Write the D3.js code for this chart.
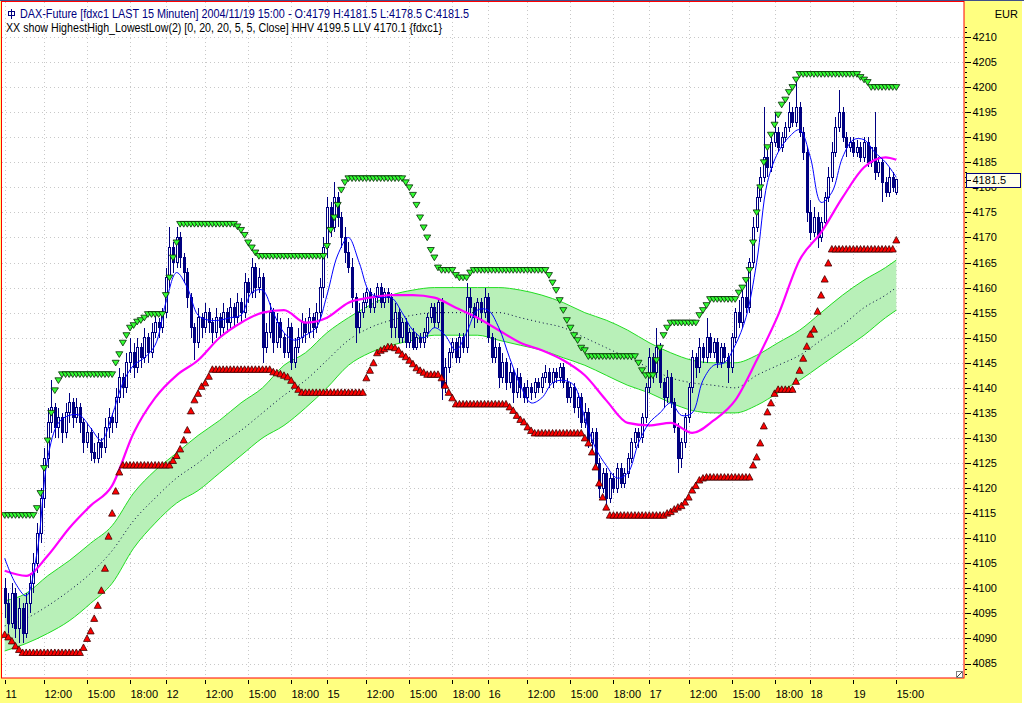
<!DOCTYPE html>
<html><head><meta charset="utf-8">
<script src="https://cdn.jsdelivr.net/npm/d3@7"></script>
<style>
body{margin:0;background:#fff;}
svg{display:block;font-family:"Liberation Sans",Arial,sans-serif;}
</style>
</head><body>
<svg id="chart" width="1024" height="705"></svg>
<script>
// ---------- DATA (15-minute bars, DAX future fdxc1) ----------
const xTickIdx = [0,11,23,35,45,56,68,80,90,101,113,125,135,146,158,170,180,191,203,215,225,237,249];
const xTickLabels = ["11","12:00","15:00","18:00","12","12:00","15:00","18:00","15","12:00","15:00","18:00","16","12:00","15:00","18:00","17","12:00","15:00","18:00","18","19","15:00"];
const yTicks = [4085,4090,4095,4100,4105,4110,4115,4120,4125,4130,4135,4140,4145,4150,4155,4160,4165,4170,4175,4180,4185,4190,4195,4200,4205,4210];

const opens = [
4100,4097,4093,4099,4092,4096,4091,4097,4101,4105,
4111,4118,4126,4133,4136,4132,4134,4131,4135,4137,
4134,4136,4133,4129,4131,4127,4126,4129,4128,4132,
4134,4133,4138,4142,4140,4145,4147,4144,4148,4146,
4150,4147,4151,4153,4152,4155,4162,4168,4165,4170,
4166,4163,4158,4152,4149,4154,4152,4155,4153,4151,
4154,4152,4155,4153,4156,4154,4157,4155,4161,4159,
4164,4160,4162,4148,4151,4155,4149,4153,4150,4147,
4152,4145,4148,4150,4153,4151,4154,4152,4155,4160,
4168,4176,4172,4178,4174,4170,4167,4164,4158,4152,
4155,4157,4159,4156,4158,4160,4157,4159,4158,4152,
4155,4150,4153,4149,4151,4148,4150,4149,4151,4154,
4156,4153,4157,4140,4144,4147,4149,4146,4150,4148,
4158,4156,4154,4157,4155,4158,4150,4146,4148,4142,
4145,4141,4143,4139,4142,4140,4138,4140,4139,4141,
4140,4142,4143,4141,4143,4142,4144,4141,4138,4140,
4136,4138,4133,4135,4129,4131,4125,4120,4123,4118,
4122,4120,4124,4121,4123,4126,4129,4131,4130,4134,
4140,4146,4143,4148,4141,4138,4142,4137,4132,4126,
4129,4134,4140,4146,4144,4148,4146,4150,4147,4149,
4145,4148,4146,4144,4150,4155,4153,4158,4156,4165,
4172,4178,4182,4186,4184,4189,4191,4188,4190,4192,
4195,4193,4196,4191,4187,4175,4171,4174,4170,4173,
4178,4182,4187,4192,4195,4190,4188,4189,4187,4188,
4186,4189,4185,4188,4183,4185,4181,4179,4182,4179];

const highs = [
4102,4099,4101,4100,4098,4097,4099,4103,4107,4113,
4120,4128,4136,4141.5,4137,4136,4135,4137,4139,4138,
4138,4137,4134,4133,4132,4129,4131,4130,4134,4136,
4135,4140,4144,4143,4147,4150,4149,4150,4149,4152,
4151,4153,4155,4154,4156,4164,4172,4169,4172,4171,
4167,4164,4159,4153,4156,4155,4157,4156,4154,4156,
4155,4157,4156,4158,4157,4159,4158,4163,4162,4166,
4165,4164,4163,4153,4157,4156,4155,4154,4151,4154,
4153,4150,4152,4155,4154,4156,4155,4157,4162,4170,
4178,4177,4181,4179,4175,4172,4169,4166,4159,4157,
4159,4160,4160,4159,4161,4161,4160,4160,4159,4157,
4156,4154,4154,4152,4152,4151,4151,4152,4155,4157,
4157,4158,4158,4146,4148,4150,4150,4151,4151,4161,
4160,4157,4158,4158,4160,4159,4151,4150,4149,4147,
4146,4145,4144,4144,4143,4141,4141.5,4141,4142,4142,
4143,4144.5,4144,4144,4144,4145,4145,4142,4141,4141,
4139,4139,4137,4136,4132,4132,4126,4124,4124,4123,
4123,4125,4125,4124,4127,4130,4132,4132,4135,4141,
4148,4147,4152,4149,4142,4143.5,4143,4138,4133,4130,
4135,4141,4147.5,4147,4150,4149,4154,4151,4150,4150,
4149,4149,4147,4151,4156,4157.5,4160,4161.5,4166,4174,
4180,4184,4196,4188,4190,4195,4192,4191,4193,4197,
4196,4202,4197,4192,4188,4177.5,4176,4175,4174,4179,
4184,4189,4194,4199.5,4196,4191,4190,4190,4189.5,4189,
4190,4190,4186,4195,4186,4186,4182,4184,4183,4181.5];

const lows = [
4094,4091,4092,4090,4089,4089,4090,4095,4099,4103,
4109,4116,4124,4131,4130,4130,4129,4130,4133,4132,
4133,4131,4127,4128,4125.5,4125,4125,4126,4127,4130,
4131,4132,4137,4138,4139,4143,4142,4143,4144,4145,
4145,4146,4150,4150,4151,4154,4160,4163,4164,4164,
4161,4156,4150,4145.5,4148,4150,4151,4151,4149,4150,
4150,4151,4151,4152,4152,4153,4153,4154,4157,4158,
4158,4159,4145,4147,4150,4147,4148,4148,4146,4146,
4143.5,4144,4147,4149,4149,4150,4150,4151,4154,4158,
4166,4170,4171,4172,4168,4165,4163,4156,4149,4151,
4154,4156,4155,4155,4157,4156,4156,4157,4150,4150,
4149,4149,4148,4148,4147.5,4147.5,4148,4148,4150,4153,
4152,4152,4137.5,4139,4143,4146,4145,4145,4147,4147,
4154,4152,4153,4153,4154,4149,4145,4145,4140,4141,
4139.5,4140,4137,4138,4138,4137,4137,4137.5,4138,4139,
4139,4141,4140,4140,4141,4141,4140,4137,4137,4135,
4134,4132,4132,4128,4127,4124,4118,4119,4116,4117,
4119,4119,4120,4120,4122,4125,4128,4128,4129,4133,
4139,4141,4142,4140,4136,4137,4136,4131,4123,4124,
4128,4133,4139,4142,4143,4145,4145,4146,4146,4144,
4144,4145,4141,4143,4149,4152,4152,4155,4155,4164,
4171,4177,4181,4182,4183,4188,4187,4187,4189,4191,
4192,4192,4190,4185.5,4173,4169.5,4170,4168,4169,4172,
4177,4181,4186,4191,4189,4186,4187,4186,4186,4185,
4185,4184,4184,4181.5,4182,4177,4178,4178,4179,4178.5];

const closes = [
4097,4093,4099,4092,4096,4091,4097,4101,4105,4111,
4118,4126,4133,4136,4132,4134,4131,4135,4137,4134,
4136,4133,4129,4131,4127,4126,4129,4128,4132,4134,
4133,4138,4142,4140,4145,4147,4144,4148,4146,4150,
4147,4151,4153,4152,4155,4162,4168,4165,4170,4166,
4163,4158,4152,4149,4154,4152,4155,4153,4151,4154,
4152,4155,4153,4156,4154,4157,4155,4161,4159,4164,
4160,4162,4148,4151,4155,4149,4153,4150,4147,4152,
4145,4148,4150,4153,4151,4154,4152,4155,4160,4168,
4176,4172,4178,4174,4170,4167,4164,4158,4152,4155,
4157,4159,4156,4158,4160,4157,4159,4158,4152,4155,
4150,4153,4149,4151,4148,4150,4149,4151,4154,4156,
4153,4157,4140,4144,4147,4149,4146,4150,4148,4158,
4156,4154,4157,4155,4158,4150,4146,4148,4142,4145,
4141,4143,4139,4142,4140,4138,4140,4139,4141,4140,
4142,4143,4141,4143,4142,4144,4141,4138,4140,4136,
4138,4133,4135,4129,4131,4125,4120,4123,4118,4122,
4120,4124,4121,4123,4126,4129,4131,4130,4134,4140,
4146,4143,4148,4141,4138,4142,4137,4132,4126,4129,
4134,4140,4146,4144,4148,4146,4150,4147,4149,4145,
4148,4146,4144,4150,4155,4153,4158,4156,4165,4172,
4178,4182,4186,4184,4189,4191,4188,4190,4192,4195,
4193,4196,4191,4187,4175,4171,4174,4170,4173,4178,
4182,4187,4192,4195,4190,4188,4189,4187,4188,4186,
4189,4185,4188,4183,4185,4181,4179,4182,4180,4181.5];

// short average (blue), read every 3rd bar
const blueIdx = [0,3,6,9,12,15,18,21,24,27,30,33,36,39,42,45,48,51,54,57,60,63,66,69,72,75,78,81,84,87,90,93,96,99,102,105,108,111,114,117,120,123,126,129,132,135,138,141,144,147,150,153,156,159,162,165,168,171,174,177,180,183,186,189,192,195,198,201,204,207,210,213,216,219,222,225,228,231,234,237,240,243,246,249];
const blueVals = [
4106,4101,4098.5,4107,4126,4133,4134.5,4134.5,4132,4129.5,
4134.5,4141,4144.5,4146,4148.5,4157,4163,4160,4154.5,4153.5,
4153.5,4154,4154.5,4159,4159.5,4155,4151,4149.5,4150.5,4152,
4158.5,4166.5,4170,4165,4159,4158,4158,4155,4151.5,4150,
4152,4150.5,4147.5,4151,4155.5,4155.5,4152,4146,4140.5,4137,
4138,4141,4141.5,4140.5,4134,4128,4124.5,4122,4123,4129,
4133,4135,4137,4134.5,4135,4141.5,4144.5,4145,4148.5,4154,
4165,4181,4187,4190,4191.5,4186,4177,4179,4186,4189.5,
4189.5,4187,4185,4182];

// long average (magenta) and green band, read every 6th bar
const slowIdx = [0,6,12,18,24,30,36,42,48,54,60,66,72,78,84,90,96,102,108,114,120,126,132,138,144,150,156,162,168,174,180,186,192,198,204,210,216,222,228,234,240,246,249];
const magentaVals = [
4103.5,4102.5,4106.5,4112,4116.5,4120.5,4131,4138,4142.5,4145.5,
4150,4153,4155,4155.5,4153,4154,4157,4158,4158.5,4158.5,
4158,4156,4154,4151.5,4149,4147.5,4145.5,4142.5,4137.5,4133,
4132.5,4133,4131,4133.5,4137.5,4145.5,4154.5,4165.5,4171,4178,
4184,4186,4185.5];
const bandUpper = [
4097.5,4099,4102.5,4105.5,4109,4112.5,4119,4123.5,4127,4130.5,
4133.5,4137,4140,4144.5,4147,4151,4154,4156.5,4158.5,4159.5,
4160,4160,4160,4160,4159.5,4158.5,4157,4155,4153.5,4151.5,
4149,4147,4145.5,4145,4145,4146.5,4149,4151.5,4155,4158.5,
4161.5,4164,4165.5];
const bandLower = [
4087.5,4089,4091,4093.5,4097,4101,4108,4113,4117,4119.5,
4123,4126.5,4130,4132.5,4136,4140,4144.5,4147,4148.5,4149.5,
4150.5,4150.5,4150.5,4149.5,4148.5,4147.5,4146,4144.5,4142.5,4140.5,
4139,4137,4135.5,4135,4135,4136.5,4139,4141.5,4144.5,4147.5,
4150.5,4154,4155.5];
const bandMid = [
4092.5,4094,4096.5,4099.5,4103,4107.5,4113.5,4118,4122,4125,
4128.5,4131.5,4135,4138.5,4141.5,4145.5,4149.5,4152,4153.5,4154.5,
4155,4155,4155,4155,4154,4153,4152,4150,4148,4146,
4144,4142,4141,4140.5,4140,4142.5,4144.5,4146.5,4149.5,4152.5,
4156,4158.5,4160];

// HighestHigh (green, down triangles) and LowestLow (red, up triangles)
const hhv = [
4114.6,4114.6,4114.6,4114.6,4114.6,4114.6,4114.6,4114.6,4114.6,4116,
4119,4124,4129.5,4135,4139.5,4141.5,4142.7,4142.7,4142.7,4142.7,
4142.7,4142.7,4142.7,4142.7,4142.7,4142.7,4142.7,4142.7,4142.7,4142.7,
4142.7,4145,4146.7,4149,4150.5,4152,4152.5,4153.2,4153.5,4154,
4154.7,4154.7,4154.7,4154.7,4154.7,4158.5,4162,4166,4169,4172.7,
4172.7,4172.7,4172.7,4172.7,4172.7,4172.7,4172.7,4172.7,4172.7,4172.7,
4172.7,4172.7,4172.7,4172.7,4172.7,4172.2,4171.5,4170.5,4169,4168,
4167,4166.3,4166.3,4166.3,4166.3,4166.3,4166.3,4166.3,4166.3,4166.3,
4166.3,4166.3,4166.3,4166.3,4166.3,4166.3,4166.3,4166.3,4166.3,4166.3,
4168.3,4171.5,4174,4176.5,4179.5,4181,4181.8,4181.8,4181.8,4181.8,
4181.8,4181.8,4181.8,4181.8,4181.8,4181.8,4181.8,4181.8,4181.8,4181.8,
4181.8,4181.8,4181,4180,4178.5,4176.5,4174,4172,4170,4167.5,
4166,4164,4163.5,4163.5,4163.5,4163.5,4162.5,4162,4162,4162,
4163,4163.5,4163.5,4163.5,4163.5,4163.5,4163.5,4163.5,4163.5,4163.5,
4163.5,4163.5,4163.5,4163.5,4163.5,4163.5,4163.5,4163.5,4163.5,4163.5,
4163.5,4163.5,4162.5,4161,4159.5,4157.5,4155.5,4153.5,4152,4150.5,
4149.5,4148,4147.5,4146.3,4146.3,4146.3,4146.3,4146.3,4146.3,4146.3,
4146.3,4146.3,4146.3,4146.3,4146.3,4146.3,4146.3,4145,4143.5,4142.5,
4142.5,4142.5,4145.5,4148,4150.5,4152,4153,4153,4153,4153,
4153,4153,4153,4153,4154.5,4155.5,4156.5,4157.7,4157.7,4157.7,
4157.7,4157.7,4157.7,4157.7,4157.7,4159,4160,4161.5,4163.5,4169,
4175,4180,4185,4188,4190.5,4192.5,4194.5,4196.5,4197.5,4199,
4200,4201.5,4202.6,4202.6,4202.6,4202.6,4202.6,4202.6,4202.6,4202.6,
4202.6,4202.6,4202.6,4202.6,4202.6,4202.6,4202.6,4202.6,4202.6,4202,
4201.5,4201,4200,4200,4200,4200,4200,4200,4200,4200];

const llv = [
4090.8,4090.3,4089.5,4088.5,4087.8,4087.2,4087.2,4087.2,4087.2,4087.2,
4087.2,4087.2,4087.2,4087.2,4087.2,4087.2,4087.2,4087.2,4087.2,4087.2,
4087.2,4087.2,4088.2,4090,4091.5,4094,4096.6,4099.6,4104,4110.4,
4115,4119.4,4123.2,4124.6,4124.6,4124.6,4124.6,4124.6,4124.6,4124.6,
4124.6,4124.6,4124.6,4124.6,4124.6,4124.6,4124.6,4125.5,4126.5,4127.8,
4129.6,4131.6,4135.4,4137.6,4138.9,4140.3,4141,4142.3,4143.7,4143.7,
4143.7,4143.7,4143.7,4143.7,4143.7,4143.7,4143.7,4143.7,4143.7,4143.7,
4143.7,4143.7,4143.7,4143.7,4143.7,4143.2,4143,4142.8,4142.5,4142.2,
4141.5,4140.5,4139.7,4139.1,4139.1,4139.1,4139.1,4139.1,4139.1,4139.1,
4139.1,4139.1,4139.1,4139.1,4139.1,4139.1,4139.1,4139.1,4139.1,4139.1,
4139.1,4142,4143.5,4145,4147,4147.5,4147.8,4148.2,4148.2,4148,
4147.5,4146.7,4146.2,4145.5,4144.8,4144,4143.5,4143.1,4142.7,4142.7,
4142.7,4142.7,4142,4140.5,4139.1,4138,4136.8,4136.8,4136.8,4136.8,
4136.8,4136.8,4136.8,4136.8,4136.8,4136.8,4136.8,4136.8,4136.8,4136.8,
4136.8,4136.2,4135.5,4134.5,4133.7,4133.2,4132.2,4131.5,4131,4131,
4131,4131,4131,4131,4131,4131,4131,4131,4131,4131,
4131,4131,4130,4129,4127.2,4124.2,4121,4118.2,4116.2,4114.6,
4114.6,4114.6,4114.6,4114.6,4114.6,4114.6,4114.6,4114.6,4114.6,4114.6,
4114.6,4114.6,4114.6,4114.6,4114.6,4115,4115.3,4115.8,4116.2,4116.5,
4117.2,4118.2,4119.6,4120.5,4121.6,4122,4122.2,4122.2,4122.2,4122.2,
4122.2,4122.2,4122.2,4122.2,4122.2,4122.2,4122.2,4122.2,4122.2,4124.6,
4126.2,4129,4132.4,4135.2,4137,4138.9,4139.7,4139.7,4139.7,4139.7,
4139.7,4141.3,4143.5,4145.9,4148.3,4150.7,4151.7,4155.3,4158.5,4161.7,
4164.9,4167.7,4167.7,4167.7,4167.7,4167.7,4167.7,4167.7,4167.7,4167.7,
4167.7,4167.7,4167.7,4167.7,4167.7,4167.7,4167.7,4167.7,4167.7,4169.5];

const lastPrice = 4181.5;
const headerLine1 = "DAX-Future [fdxc1 LAST 15 Minuten] 2004/11/19 15:00 - O:4179 H:4181.5 L:4178.5 C:4181.5";
const headerLine2 = "XX show HighestHigh_LowestLow(2) [0, 20, 20, 5, 5, Close] HHV 4199.5 LLV 4170.1 {fdxc1}";

// ---------- DRAWING ----------
const svg = d3.select("#chart");
const W = 1024, H = 705;
const plot = {left: 1.5, top: 1.5, right: 964, bottom: 678};
const x = d3.scaleLinear().domain([0, 249]).range([4.7, 896.3]);
const y = d3.scaleLinear().domain([4085, 4210]).range([663.5, 37]);

const YELLOW = "#FFFF80", NAVY = "#000080";

// axis backgrounds
svg.append("rect").attr("x", 0).attr("y", 0).attr("width", 1022).attr("height", 703).attr("fill", YELLOW);
svg.append("rect").attr("x", plot.left).attr("y", plot.top)
  .attr("width", plot.right - plot.left).attr("height", plot.bottom - plot.top).attr("fill", "#fff");
svg.append("line").attr("x1", 0).attr("x2", W).attr("y1", 0.5).attr("y2", 0.5).attr("stroke", "#40508a");

svg.append("defs").append("clipPath").attr("id", "clip")
  .append("rect").attr("x", plot.left).attr("y", plot.top)
  .attr("width", plot.right - plot.left).attr("height", plot.bottom - plot.top);

const g = svg.append("g").attr("clip-path", "url(#clip)");

// grid
const grid = g.append("g").attr("stroke", "#c8c8c8").attr("stroke-dasharray", "1,3").attr("shape-rendering", "crispEdges");
grid.selectAll("line.h").data(yTicks).join("line").attr("class", "h")
  .attr("x1", plot.left).attr("x2", plot.right)
  .attr("y1", d => Math.round(y(d)) + 0.5).attr("y2", d => Math.round(y(d)) + 0.5);
grid.selectAll("line.v").data(xTickIdx).join("line").attr("class", "v")
  .attr("y1", plot.top).attr("y2", plot.bottom)
  .attr("x1", d => Math.round(x(d)) + 0.5).attr("x2", d => Math.round(x(d)) + 0.5);

// green band
const bandData = slowIdx.map((idx, k) => ({idx, up: bandUpper[k], lo: bandLower[k], mid: bandMid[k], mag: magentaVals[k]}));
const curve = d3.curveMonotoneX;
g.append("path").datum(bandData)
  .attr("d", d3.area().curve(curve).x(d => x(d.idx)).y0(d => y(d.lo)).y1(d => y(d.up)))
  .attr("fill", "#b8f0b8");
["up", "lo"].forEach(k => {
  g.append("path").datum(bandData)
    .attr("d", d3.line().curve(curve).x(d => x(d.idx)).y(d => y(d[k])))
    .attr("fill", "none").attr("stroke", "#22dd22").attr("stroke-width", 1);
});
g.append("path").datum(bandData)
  .attr("d", d3.line().curve(curve).x(d => x(d.idx)).y(d => y(d.mid)))
  .attr("fill", "none").attr("stroke", "#000040").attr("stroke-width", 1).attr("stroke-dasharray", "1,3");

// candles
const bars = closes.map((c, i) => ({i, o: opens[i], h: highs[i], l: lows[i], c}));
const cg = g.append("g").attr("shape-rendering", "crispEdges");
cg.selectAll("line").data(bars).join("line")
  .attr("x1", d => Math.round(x(d.i)) + 0.5).attr("x2", d => Math.round(x(d.i)) + 0.5)
  .attr("y1", d => y(d.h)).attr("y2", d => y(d.l))
  .attr("stroke", NAVY);
cg.selectAll("rect").data(bars).join("rect")
  .attr("x", d => Math.round(x(d.i)) - 0.5)
  .attr("width", 2)
  .attr("y", d => y(Math.max(d.o, d.c)))
  .attr("height", d => Math.max(1, Math.abs(y(d.o) - y(d.c))))
  .attr("fill", d => d.c >= d.o ? "#fff" : NAVY)
  .attr("stroke", NAVY).attr("stroke-width", 1);

// magenta slow average
g.append("path").datum(bandData)
  .attr("d", d3.line().curve(curve).x(d => x(d.idx)).y(d => y(d.mag)))
  .attr("fill", "none").attr("stroke", "#ff00ff").attr("stroke-width", 2.2);

// blue fast average
const blueData = blueIdx.map((idx, k) => ({idx, v: blueVals[k]}));
g.append("path").datum(blueData)
  .attr("d", d3.line().curve(d3.curveCatmullRom.alpha(0.5)).x(d => x(d.idx)).y(d => y(d.v)))
  .attr("fill", "none").attr("stroke", "#0000ff").attr("stroke-width", 1);

// triangles
const tri = g.append("g");
tri.selectAll("path.hh").data(hhv.map((v, i) => ({i, v}))).join("path").attr("class", "hh")
  .attr("d", d => { const cx = x(d.i), cy = y(d.v); return `M${cx-3.5},${cy-2.5}L${cx+3.5},${cy-2.5}L${cx},${cy+3.2}Z`; })
  .attr("fill", "#33ff33").attr("stroke", "#062806").attr("stroke-width", 0.8);
tri.selectAll("path.ll").data(llv.map((v, i) => ({i, v}))).join("path").attr("class", "ll")
  .attr("d", d => { const cx = x(d.i), cy = y(d.v); return `M${cx-3.5},${cy+3}L${cx+3.5},${cy+3}L${cx},${cy-3.5}Z`; })
  .attr("fill", "#ff0000").attr("stroke", "#400000").attr("stroke-width", 0.8);

// header texts
svg.append("text").attr("x", 20).attr("y", 18).attr("font-size", 12).attr("fill", NAVY)
  .attr("textLength", 449).attr("lengthAdjust", "spacingAndGlyphs").text(headerLine1);
svg.append("text").attr("x", 6).attr("y", 31.5).attr("font-size", 12).attr("fill", "#000")
  .attr("textLength", 436).attr("lengthAdjust", "spacingAndGlyphs").text(headerLine2);
svg.append("rect").attr("x", 8.5).attr("y", 11.5).attr("width", 6).attr("height", 4)
  .attr("fill", "none").attr("stroke", NAVY);
svg.append("line").attr("x1", 11.5).attr("x2", 11.5).attr("y1", 9).attr("y2", 19).attr("stroke", NAVY);

// plot border
svg.append("rect").attr("x", plot.left).attr("y", plot.top)
  .attr("width", plot.right - plot.left).attr("height", plot.bottom - plot.top)
  .attr("fill", "none").attr("stroke", "#ff0000").attr("stroke-width", 1);

// corner icon
svg.append("rect").attr("x", 956.5).attr("y", 671.5).attr("width", 6).attr("height", 6)
  .attr("fill", "#fff").attr("stroke", "#808080");
svg.append("line").attr("x1", 957).attr("y1", 677).attr("x2", 962).attr("y2", 672).attr("stroke", "#404040");

// right axis
const ra = svg.append("g").attr("shape-rendering", "crispEdges");
ra.selectAll("line.minor").data(d3.range(4083, 4213)).join("line").attr("class", "minor")
  .attr("x1", 965).attr("x2", 967)
  .attr("y1", d => Math.round(y(d)) + 0.5).attr("y2", d => Math.round(y(d)) + 0.5)
  .attr("stroke", "#000");
ra.selectAll("line.major").data(yTicks).join("line").attr("class", "major")
  .attr("x1", 965).attr("x2", 971)
  .attr("y1", d => Math.round(y(d)) + 0.5).attr("y2", d => Math.round(y(d)) + 0.5)
  .attr("stroke", "#000");
svg.append("g").selectAll("text").data(yTicks).join("text")
  .attr("x", 972.5).attr("y", d => y(d)).attr("dy", "0.36em")
  .attr("font-size", 11).attr("fill", "#000").text(d => d);
svg.append("text").attr("x", 1018).attr("y", 18).attr("text-anchor", "end")
  .attr("font-size", 11).attr("fill", "#000").text("EUR");

// last price box
svg.append("rect").attr("x", 966.5).attr("y", Math.round(y(lastPrice)) - 6.5)
  .attr("width", 54).attr("height", 14).attr("fill", "#ffffe6").attr("stroke", NAVY);
svg.append("line").attr("x1", 967).attr("x2", 971)
  .attr("y1", Math.round(y(lastPrice)) + 0.5).attr("y2", Math.round(y(lastPrice)) + 0.5).attr("stroke", "#000");
svg.append("text").attr("x", 972.5).attr("y", y(lastPrice)).attr("dy", "0.36em")
  .attr("font-size", 11).attr("fill", "#000").text(lastPrice.toFixed(1));

// bottom axis
const ba = svg.append("g");
ba.selectAll("line").data(xTickIdx).join("line")
  .attr("x1", d => Math.round(x(d)) + 0.5).attr("x2", d => Math.round(x(d)) + 0.5)
  .attr("y1", 680).attr("y2", 684).attr("stroke", "#000").attr("shape-rendering", "crispEdges");
ba.selectAll("text").data(xTickIdx).join("text")
  .attr("x", d => Math.round(x(d)) + 0.5).attr("y", 698)
  .attr("font-size", 11).attr("fill", "#000")
  .text((d, k) => xTickLabels[k]);
</script>
</body></html>
